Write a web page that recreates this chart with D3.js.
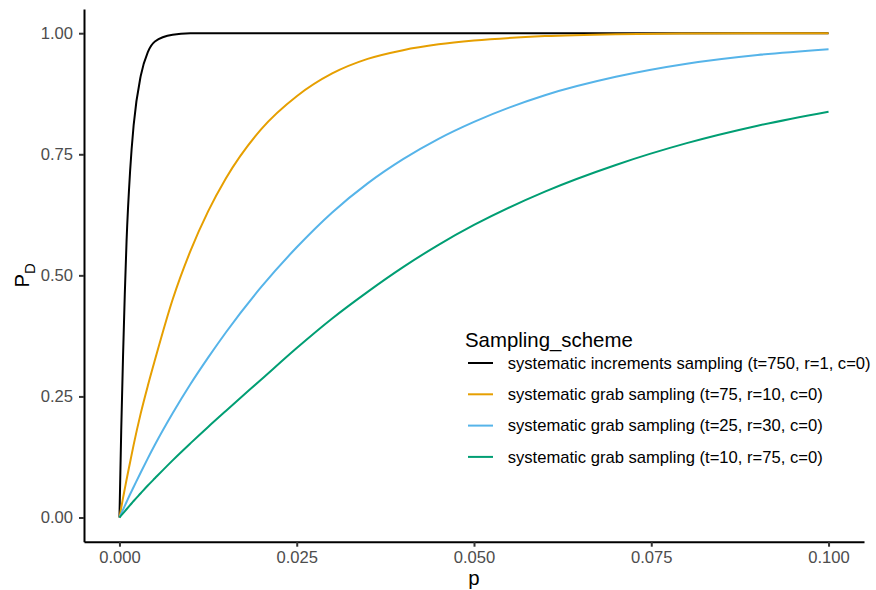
<!DOCTYPE html>
<html>
<head>
<meta charset="utf-8">
<script src="https://cdn.jsdelivr.net/npm/d3@7"></script>
<style>
  body { margin: 0; background: #fff; }
  svg text { font-family: "Liberation Sans", Arial, sans-serif; }
</style>
</head>
<body>
<div id="chart"></div>
<script>
// p values (x) shared by every curve
const pValues = [0, 0.00025, 0.0005, 0.00075, 0.001, 0.0015, 0.002, 0.003, 0.004, 0.005,
                 0.0075, 0.01, 0.0125, 0.015, 0.02, 0.025, 0.03, 0.035, 0.04, 0.045,
                 0.05, 0.06, 0.07, 0.08, 0.09, 0.1];

// P_D, one array per sampling scheme
const pdIncrements750 = [0, 0.18, 0.33, 0.46, 0.57, 0.715, 0.81, 0.912, 0.961, 0.983,
                         0.997, 0.9997, 1, 1, 1, 1, 1, 1, 1, 1,
                         1, 1, 1, 1, 1, 1];
const pdGrab75 = [0, 0.02, 0.04, 0.059, 0.078, 0.114, 0.15, 0.215, 0.272, 0.325,
                  0.45, 0.55, 0.632, 0.70, 0.802, 0.870, 0.917, 0.947, 0.965, 0.977,
                  0.985, 0.994, 0.998, 0.9995, 1, 1];
const pdGrab25 = [0, 0.008, 0.016, 0.024, 0.032, 0.048, 0.063, 0.093, 0.122, 0.150,
                  0.215, 0.275, 0.330, 0.382, 0.476, 0.558, 0.630, 0.690, 0.740, 0.782,
                  0.817, 0.872, 0.910, 0.937, 0.955, 0.967];
const pdGrab10 = [0, 0.0043, 0.0085, 0.0128, 0.017, 0.0255, 0.034, 0.050, 0.066, 0.081,
                  0.118, 0.153, 0.187, 0.220, 0.285, 0.350, 0.411, 0.466, 0.517, 0.563,
                  0.604, 0.673, 0.728, 0.773, 0.809, 0.838];

const schemeNames = [
  "systematic increments sampling (t=750, r=1, c=0)",
  "systematic grab sampling (t=75, r=10, c=0)",
  "systematic grab sampling (t=25, r=30, c=0)",
  "systematic grab sampling (t=10, r=75, c=0)"
];
const schemeColors = ["#000000", "#E69F00", "#56B4E9", "#009E73"];

const xTicks = [0, 0.025, 0.05, 0.075, 0.1];
const yTicks = [0, 0.25, 0.5, 0.75, 1];

function init() {
  const width = 876, height = 590;
  const margin = { top: 9, right: 12, bottom: 48.3, left: 84 };

  const svg = d3.select("#chart").append("svg")
    .attr("width", width)
    .attr("height", height);

  // ggplot style 5% expansion on both axes
  const x = d3.scaleLinear()
    .domain([-0.005, 0.105])
    .range([margin.left, width - margin.right]);
  const y = d3.scaleLinear()
    .domain([-0.05, 1.05])
    .range([height - margin.bottom, margin.top]);

  const series = [pdIncrements750, pdGrab75, pdGrab25, pdGrab10].map((vals, i) => ({
    name: schemeNames[i],
    color: schemeColors[i],
    points: pValues.map((p, j) => ({ p: p, pd: vals[j] }))
  }));

  const line = d3.line()
    .x(d => x(d.p))
    .y(d => y(d.pd))
    .curve(d3.curveMonotoneX);

  svg.append("g").selectAll("path")
    .data(series)
    .enter().append("path")
    .attr("d", d => line(d.points))
    .attr("fill", "none")
    .attr("stroke", d => d.color)
    .attr("stroke-width", 2);

  // axes
  const xAxis = svg.append("g")
    .attr("transform", `translate(0,${height - margin.bottom})`)
    .call(d3.axisBottom(x).tickValues(xTicks).tickFormat(d3.format(".3f"))
      .tickSize(5).tickSizeOuter(0).tickPadding(5));
  const yAxis = svg.append("g")
    .attr("transform", `translate(${margin.left},0)`)
    .call(d3.axisLeft(y).tickValues(yTicks).tickFormat(d3.format(".2f"))
      .tickSize(5).tickSizeOuter(0).tickPadding(6));

  [xAxis, yAxis].forEach(ax => {
    ax.select(".domain").attr("stroke", "#000").attr("stroke-width", 2);
    ax.selectAll(".tick line").attr("stroke", "#333333").attr("stroke-width", 2);
    ax.selectAll(".tick text")
      .attr("fill", "#4D4D4D")
      .style("font-size", "16.6px")
      .style("font-family", "'Liberation Sans', Arial, sans-serif");
  });

  // axis titles
  svg.append("text")
    .attr("x", (margin.left + width - margin.right) / 2)
    .attr("y", 585)
    .attr("text-anchor", "middle")
    .style("font-size", "20.4px")
    .text("p");

  const yTitle = svg.append("text")
    .attr("transform", `translate(29,${(margin.top + height - margin.bottom) / 2}) rotate(-90)`)
    .attr("text-anchor", "middle")
    .style("font-size", "20.4px");
  yTitle.append("tspan").text("P");
  yTitle.append("tspan").attr("dy", 6).style("font-size", "15px").text("D");

  // legend
  const legend = svg.append("g").attr("transform", "translate(465,0)");
  legend.append("text")
    .attr("x", 0)
    .attr("y", 347)
    .style("font-size", "20.4px")
    .text("Sampling_scheme");

  const rows = legend.selectAll(".row")
    .data(series)
    .enter().append("g")
    .attr("class", "row")
    .attr("transform", (d, i) => `translate(0,${363 + i * 31.3})`);
  rows.append("line")
    .attr("x1", 3).attr("x2", 28)
    .attr("stroke", d => d.color)
    .attr("stroke-width", 2);
  rows.append("text")
    .attr("x", 42.7)
    .attr("dy", "0.35em")
    .style("font-size", "16.6px")
    .attr("fill", "#000")
    .text(d => d.name);
}
window.onload = init;
</script>
</body>
</html>
